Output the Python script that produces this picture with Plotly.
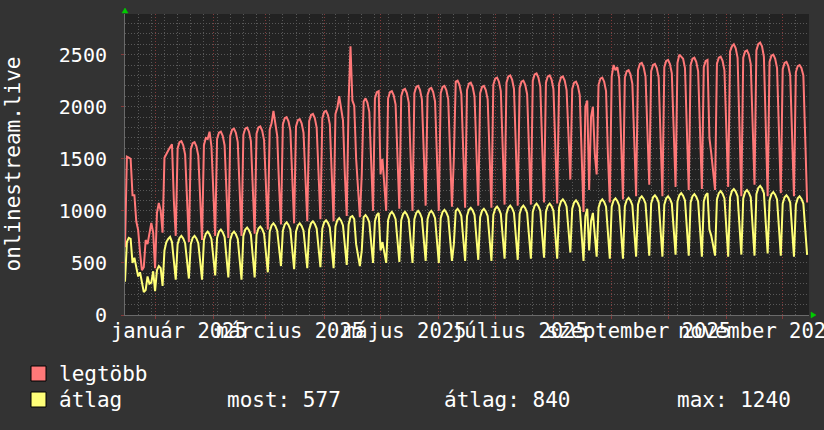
import plotly.graph_objects as go
import pandas as pd

# ---------------- data ----------------
START_DATE = "2024-12-16"
END_DATE = "2025-12-15"

# daily values, one row per week (Mon..Sun)
legtobb = [
    650, 1520, 1510, 1500, 1150, 1150, 900,
    815, 600, 430, 460, 720, 680, 800,
    885, 790, 450, 980, 1075, 1000, 790,
    1510, 1550, 1580, 1610, 1640, 1100, 760,
    1600, 1660, 1670, 1630, 1540, 1070, 700,
    1590, 1650, 1660, 1620, 1530, 1080, 720,
    1630, 1700, 1690, 1760, 1620, 1140, 760,
    1690, 1750, 1760, 1720, 1630, 1130, 740,
    1720, 1780, 1790, 1750, 1660, 1150, 760,
    1730, 1790, 1800, 1760, 1670, 1170, 780,
    1740, 1800, 1810, 1770, 1680, 1200, 820,
    1780, 1840, 1960, 1810, 1720, 1240, 870,
    1830, 1890, 1900, 1860, 1770, 1270, 880,
    1810, 1870, 1880, 1840, 1750, 1270, 900,
    1860, 1920, 1930, 1890, 1800, 1300, 920,
    1890, 1950, 1960, 1920, 1830, 1300, 900,
    1930, 1990, 2100, 1960, 1870, 1350, 950,
    2050, 2580, 2060, 2010, 1500, 1200, 940,
    1350, 2050, 2080, 2040, 1950, 1400, 1000,
    2080, 2140, 2150, 1350, 1500, 1250, 1000,
    2080, 2140, 2150, 2110, 2020, 1450, 1020,
    2100, 2160, 2170, 2130, 2040, 1450, 1000,
    2130, 2190, 2200, 2160, 2070, 1490, 1050,
    2110, 2170, 2180, 2140, 2050, 1450, 1000,
    2130, 2190, 2200, 2160, 2070, 1480, 1040,
    1500, 2240, 2250, 2210, 2120, 1490, 1030,
    2160, 2220, 2230, 2190, 2100, 1500, 1050,
    2130, 2190, 2200, 2160, 2070, 1480, 1030,
    2210, 2270, 2280, 2240, 2150, 1520, 1060,
    2230, 2290, 2300, 2260, 2170, 1530, 1050,
    2180, 2240, 2250, 2210, 2120, 1510, 1060,
    2250, 2310, 2320, 2280, 2190, 1550, 1080,
    2230, 2290, 2300, 2260, 2170, 1540, 1070,
    2220, 2280, 2290, 2250, 2160, 1680, 1300,
    2170, 2230, 2240, 2200, 2110, 1470, 990,
    2000, 2060, 1200, 1900, 2000, 1550, 1350,
    2210, 2270, 2280, 2240, 2150, 1540, 1080,
    2290, 2400, 2350, 2380, 2270, 1600, 1110,
    2280, 2340, 2350, 2310, 2220, 1600, 1140,
    2350, 2410, 2420, 2380, 2290, 1700, 1250,
    2340, 2400, 2410, 2370, 2280, 1620, 1140,
    2380, 2440, 2450, 2410, 2320, 1690, 1230,
    2420, 2500, 2480, 2460, 2370, 1690, 1200,
    2400, 2460, 2470, 2430, 2340, 1690, 1210,
    2380, 2440, 2450, 1700, 1550, 1400, 1200,
    2410, 2470, 2480, 2440, 2350, 1700, 1230,
    2530, 2580, 2600, 2560, 2470, 1700, 1140,
    2470, 2530, 2540, 2500, 2410, 1740, 1250,
    2540, 2600, 2615, 2580, 2480, 1700, 1140,
    2430, 2490, 2500, 2460, 2370, 1680, 1170,
    2360, 2420, 2430, 2390, 2300, 1630, 1140,
    2330, 2390, 2400, 2370, 2300, 1580, 1080,
]

atlag = [
    320, 700, 740, 730, 500, 550, 460,
    370, 410, 300, 220, 240, 370, 300,
    310, 420, 230, 430, 470, 450, 280,
    620, 700, 730, 750, 700, 500, 340,
    680, 740, 760, 735, 690, 510, 350,
    680, 740, 760, 735, 690, 510, 340,
    720, 780, 800, 775, 730, 550, 380,
    740, 800, 820, 795, 750, 540, 360,
    720, 780, 800, 775, 730, 520, 340,
    760, 820, 840, 815, 770, 550, 360,
    770, 830, 850, 825, 780, 590, 410,
    800, 860, 880, 855, 810, 630, 470,
    810, 870, 890, 865, 820, 620, 440,
    800, 860, 880, 855, 810, 620, 450,
    820, 880, 900, 875, 830, 640, 460,
    830, 890, 910, 885, 840, 630, 450,
    850, 910, 930, 905, 860, 660, 480,
    870, 940, 950, 920, 680, 580, 470,
    620, 940, 960, 935, 890, 680, 500,
    900, 960, 980, 620, 700, 600, 500,
    910, 970, 990, 965, 920, 700, 510,
    910, 970, 990, 965, 920, 700, 500,
    920, 980, 1000, 975, 930, 710, 520,
    920, 980, 1000, 975, 930, 700, 500,
    930, 990, 1010, 985, 940, 720, 520,
    680, 1000, 1020, 995, 950, 720, 520,
    950, 1010, 1030, 1005, 960, 730, 530,
    940, 1000, 1020, 995, 950, 720, 520,
    960, 1020, 1040, 1015, 970, 740, 540,
    970, 1030, 1050, 1025, 980, 740, 530,
    970, 1030, 1050, 1025, 980, 740, 540,
    990, 1050, 1070, 1045, 1000, 760, 550,
    990, 1050, 1070, 1045, 1000, 750, 540,
    1030, 1090, 1110, 1085, 1040, 800, 600,
    1020, 1080, 1100, 1075, 1030, 750, 520,
    950, 1020, 620, 900, 980, 720, 560,
    1030, 1090, 1110, 1085, 1040, 770, 540,
    1040, 1100, 1120, 1095, 1050, 770, 540,
    1045, 1105, 1125, 1100, 1055, 790, 560,
    1060, 1120, 1140, 1115, 1070, 800, 570,
    1070, 1130, 1150, 1125, 1080, 800, 560,
    1060, 1120, 1140, 1115, 1070, 800, 580,
    1090, 1150, 1170, 1145, 1100, 810, 570,
    1080, 1140, 1160, 1135, 1090, 800, 560,
    1090, 1150, 1170, 820, 760, 680, 570,
    1110, 1170, 1190, 1165, 1120, 810, 560,
    1130, 1190, 1210, 1185, 1140, 830, 580,
    1120, 1180, 1200, 1175, 1130, 820, 570,
    1160, 1220, 1240, 1215, 1170, 850, 590,
    1100, 1160, 1180, 1155, 1110, 810, 570,
    1070, 1130, 1150, 1125, 1080, 800, 560,
    1060, 1120, 1140, 1115, 1070, 800, 577,
]

series_names = ["legtöbb", "átlag"]
month_labels = ["január 2025", "március 2025", "május 2025",
                "július 2025", "szeptember 2025", "november 2025"]
month_label_dates = ["2025-01-14", "2025-03-14", "2025-05-14",
                     "2025-07-14", "2025-09-15", "2025-11-18"]
stat_labels = ["most: 577", "átlag: 840", "max: 1240"]
y_title = "onlinestream.live"
Y_MAX = 2890

dates = pd.date_range(START_DATE, periods=len(legtobb), freq="D")

# ---------------- layout helpers ----------------
W_PX, H_PX = 824, 430
L, R, T, B = 125, 15, 14, 115
PW = W_PX - L - R
PH = H_PX - T - B


def px(xp):
    return (xp - L) / PW


def py(yp):
    return (H_PX - B - yp) / PH


FONT = "DejaVu Sans Mono"
RED = "#ff7878"
YEL = "#ffff78"
MINOR = "#585858"
MAJOR = "#843a3a"
DOT = "1px,2px"
BG = "#333333"

fig = go.Figure()
fig.add_trace(go.Scatter(x=dates, y=legtobb, mode="lines", name=series_names[0],
                         line=dict(color=RED, width=2)))
fig.add_trace(go.Scatter(x=dates, y=atlag, mode="lines", name=series_names[1],
                         line=dict(color=YEL, width=2)))

fig.update_layout(
    template="none",
    width=W_PX, height=H_PX,
    margin=dict(l=L, r=R, t=T, b=B, pad=0, autoexpand=False),
    paper_bgcolor=BG, plot_bgcolor="#222222",
    showlegend=False,
    font=dict(family=FONT, color="#ffffff", size=20),
)

fig.update_xaxes(
    type="date", range=[START_DATE, END_DATE], automargin=False,
    dtick="M1", tick0="2025-01-01",
    showgrid=True, gridcolor=MAJOR, griddash=DOT, gridwidth=1,
    showticklabels=False, ticks="outside", ticklen=3, tickcolor=MAJOR,
    showline=True, linecolor="#6a6a6a", linewidth=1, zeroline=False,
    minor=dict(dtick=7 * 86400000, tick0=START_DATE, showgrid=True,
               gridcolor=MINOR, griddash=DOT, gridwidth=1, ticks=""),
)
fig.update_yaxes(
    range=[0, Y_MAX], dtick=500, tick0=0, automargin=False,
    showgrid=True, gridcolor=MINOR, griddash=DOT, gridwidth=1,
    minor=dict(dtick=100, showgrid=True, gridcolor=MINOR, griddash=DOT, gridwidth=1),
    ticks="outside", ticklen=3, tickcolor=MAJOR,
    ticklabelstandoff=10, zeroline=False,
    showline=True, linecolor="#6a6a6a", linewidth=1,
    tickfont=dict(family=FONT, size=20, color="#ffffff"),
)

annotations = []
for lab, d in zip(month_labels, month_label_dates):
    annotations.append(dict(x=d, xref="x", y=0, yref="paper", yanchor="top",
                            xanchor="center", yshift=-2, text=lab, showarrow=False,
                            font=dict(family=FONT, size=20.5, color="#ffffff")))

annotations.append(dict(x=0, xref="paper", xshift=-(L - 12), y=0.5, yref="paper",
                        xanchor="center", yanchor="middle", textangle=-90,
                        text=y_title, showarrow=False,
                        font=dict(family=FONT, size=21, color="#ffffff")))

# legend
legend_rows = [(series_names[0], RED, 366), (series_names[1], YEL, 392)]
shapes = []
for name, col, top in legend_rows:
    shapes.append(dict(type="rect", xref="paper", yref="paper",
                       x0=px(31), x1=px(46), y0=py(top + 15), y1=py(top),
                       fillcolor=col, line=dict(color="#000000", width=1)))
    annotations.append(dict(x=px(57), xref="paper", y=py(top + 7.5), yref="paper",
                            xanchor="left", yanchor="middle", text=name, showarrow=False,
                            font=dict(family=FONT, size=21, color="#ffffff")))
for lab, xpos in zip(stat_labels, [225, 442, 675]):
    annotations.append(dict(x=px(xpos), xref="paper", y=py(392 + 7.5), yref="paper",
                            xanchor="left", yanchor="middle", text=lab, showarrow=False,
                            font=dict(family=FONT, size=21, color="#ffffff")))

# axis arrows
shapes.append(dict(type="path", xref="paper", yref="paper", xsizemode="pixel",
                   ysizemode="pixel", xanchor=0, yanchor=1,
                   path="M-3,1 L3,1 L0,6 Z", fillcolor="#00cc00",
                   line=dict(color="#00cc00", width=0.5)))
shapes.append(dict(type="path", xref="paper", yref="paper", xsizemode="pixel",
                   ysizemode="pixel", xanchor=1, yanchor=0,
                   path="M2,-3 L2,3 L7,0 Z", fillcolor="#00cc00",
                   line=dict(color="#00cc00", width=0.5)))

fig.update_layout(annotations=annotations, shapes=shapes)

# remove the browser's default page margin so the figure sits at (0, 0)
page_fix = ("document.body.style.margin='0';"
            "document.body.style.padding='0';"
            "document.body.style.background='" + BG + "';")
fig.write_html("out.html", post_script=page_fix,
               config={"displayModeBar": False, "staticPlot": True})
